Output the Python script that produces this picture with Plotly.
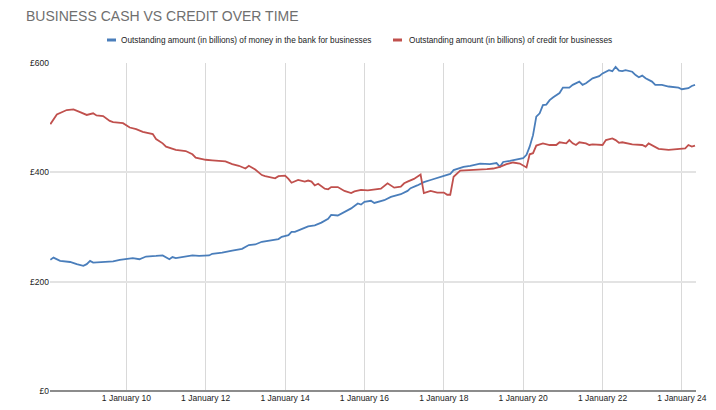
import plotly.graph_objects as go

title_text = "BUSINESS CASH VS CREDIT OVER TIME"
cash_name = "Outstanding amount (in billions) of money in the bank for businesses"
credit_name = "Outstanding amount (in billions) of credit for businesses"

cash_dates = ["2008-02", "2008-03", "2008-05", "2008-08", "2008-10", "2008-12", "2009-01", "2009-02", "2009-03",
              "2009-06", "2009-09", "2009-11", "2010-01", "2010-03", "2010-05", "2010-07", "2010-10", "2010-12",
              "2011-02", "2011-03", "2011-04", "2011-06", "2011-08", "2011-09", "2011-11", "2012-02", "2012-03",
              "2012-06", "2012-09", "2012-12", "2013-02", "2013-04", "2013-06", "2013-09", "2013-11", "2013-12",
              "2014-02", "2014-03", "2014-04", "2014-06", "2014-08", "2014-10", "2014-12", "2015-02", "2015-03",
              "2015-05", "2015-06", "2015-08", "2015-09", "2015-11", "2015-12", "2016-01", "2016-03", "2016-04",
              "2016-07", "2016-09", "2016-11", "2016-12", "2017-02", "2017-03", "2017-05", "2017-07", "2017-09",
              "2017-11", "2018-01", "2018-03", "2018-04", "2018-07", "2018-09", "2018-12", "2019-03", "2019-05",
              "2019-06", "2019-07", "2019-09", "2019-12", "2020-01", "2020-02", "2020-03", "2020-04", "2020-05",
              "2020-06", "2020-07", "2020-08", "2020-09", "2020-10", "2020-11", "2020-12", "2021-01", "2021-03",
              "2021-04", "2021-06", "2021-07", "2021-08", "2021-10", "2021-12", "2022-01", "2022-03", "2022-04",
              "2022-05", "2022-06", "2022-07", "2022-08", "2022-10", "2022-11", "2022-12", "2023-01", "2023-02",
              "2023-04", "2023-05", "2023-07", "2023-09", "2023-12", "2024-01", "2024-03", "2024-04", "2024-05"]
cash_values = [240, 244, 238, 236, 232, 229, 232, 238, 235,
               236, 237, 240, 241, 243, 241, 246, 247, 248,
               241, 245, 243, 245, 246, 248, 247, 248, 251,
               253, 257, 260, 267, 268, 273, 276, 278, 282,
               285, 291, 291, 296, 301, 303, 308, 315, 322,
               321, 324, 330, 334, 343, 341, 346, 348, 344,
               349, 355, 358, 360, 366, 371, 376, 382, 386,
               390, 393, 397, 404, 410, 412, 416, 415, 417,
               410, 419, 421, 424, 426, 432, 447, 468, 502,
               508, 523, 524, 532, 537, 541, 545, 555, 555,
               560, 566, 560, 563, 572, 576, 581, 587, 585,
               593, 586, 585, 587, 584, 578, 574, 577, 572,
               566, 560, 560, 557, 555, 552, 554, 558, 560]

credit_dates = ["2008-02", "2008-03", "2008-04", "2008-07", "2008-09", "2008-11", "2009-01", "2009-03", "2009-04",
                "2009-06", "2009-08", "2009-09", "2009-12", "2010-02", "2010-04", "2010-06", "2010-09", "2010-10",
                "2010-12", "2011-01", "2011-02", "2011-04", "2011-07", "2011-09", "2011-10", "2012-01", "2012-03",
                "2012-05", "2012-07", "2012-09", "2012-11", "2013-01", "2013-02", "2013-04", "2013-06", "2013-07",
                "2013-10", "2013-11", "2014-01", "2014-02", "2014-03", "2014-05", "2014-07", "2014-08", "2014-09",
                "2014-10", "2014-11", "2015-01", "2015-02", "2015-03", "2015-05", "2015-07", "2015-09", "2015-10",
                "2015-12", "2016-02", "2016-04", "2016-06", "2016-08", "2016-10", "2016-12", "2017-01", "2017-02",
                "2017-03", "2017-04", "2017-06", "2017-07", "2017-09", "2017-11", "2018-01", "2018-02", "2018-03",
                "2018-04", "2018-06", "2018-09", "2018-12", "2019-02", "2019-04", "2019-06", "2019-08", "2019-10",
                "2019-12", "2020-01", "2020-02", "2020-03", "2020-04", "2020-05", "2020-06", "2020-07", "2020-09",
                "2020-11", "2020-12", "2021-02", "2021-03", "2021-04", "2021-05", "2021-06", "2021-08", "2021-09",
                "2021-10", "2021-12", "2022-01", "2022-02", "2022-04", "2022-05", "2022-06", "2022-07", "2022-09",
                "2022-10", "2023-01", "2023-02", "2023-03", "2023-04", "2023-06", "2023-09", "2023-12", "2024-02",
                "2024-03", "2024-04", "2024-05"]
credit_values = [488, 497, 506, 514, 515, 510, 505, 508, 504,
                 503, 494, 492, 490, 482, 479, 474, 470, 461,
                 453, 447, 445, 441, 439, 433, 427, 423, 422,
                 421, 420, 415, 412, 407, 412, 405, 395, 393,
                 389, 393, 394, 388, 381, 386, 383, 385, 383,
                 376, 379, 370, 369, 373, 373, 366, 362, 365,
                 368, 367, 368, 370, 380, 372, 374, 380, 383,
                 385, 388, 396, 362, 366, 363, 363, 359, 359,
                 392, 403, 404, 404, 406, 407, 410, 415, 418,
                 416, 412, 409, 433, 435, 449, 451, 453, 450,
                 450, 455, 453, 459, 453, 450, 455, 453, 450,
                 451, 451, 450, 459, 462, 459, 454, 455, 453,
                 451, 450, 447, 453, 450, 443, 441, 442, 444,
                 450, 447, 449]

y_ticks = [0, 200, 400, 600]
y_tick_labels = ["£0", "£200", "£400", "£600"]
x_ticks = ["2010-01-01", "2012-01-01", "2014-01-01", "2016-01-01",
           "2018-01-01", "2020-01-01", "2022-01-01", "2024-01-01"]
x_tick_labels = ["1 January 10", "1 January 12", "1 January 14", "1 January 16",
                 "1 January 18", "1 January 20", "1 January 22", "1 January 24"]

BLUE = "#4a7ebb"
RED = "#c0504d"
FONT = "Liberation Sans, Arial, sans-serif"

# plot-area geometry in pixels (for legend placement)
PL, PR, PT, PB = 50, 696, 63, 391
W = PR - PL
H = PB - PT


def px(x):
    return (x - PL) / W


def py(y):
    return (PB - y) / H


fig = go.Figure()
fig.add_trace(go.Scatter(x=cash_dates, y=cash_values, mode="lines", name=cash_name,
                         line=dict(color=BLUE, width=1.8)))
fig.add_trace(go.Scatter(x=credit_dates, y=credit_values, mode="lines", name=credit_name,
                         line=dict(color=RED, width=1.8)))

# custom legend (short swatches like the reference)
legend_items = [(cash_name, BLUE, 107, 121), (credit_name, RED, 393, 409)]
shapes = []
annotations = []
for name, col, sx, tx in legend_items:
    shapes.append(dict(type="rect", xref="paper", yref="paper",
                       x0=px(sx), x1=px(sx + 9), y0=py(41.5), y1=py(38.5),
                       fillcolor=col, line=dict(width=0)))
    annotations.append(dict(text=name, xref="paper", yref="paper", x=px(tx - 2), y=py(40),
                            xanchor="left", yanchor="middle", showarrow=False,
                            font=dict(family=FONT, size=8.25, color="#222222")))

fig.update_layout(
    width=716, height=410,
    margin=dict(l=PL, r=716 - PR, t=PT, b=410 - PB, autoexpand=False),
    paper_bgcolor="white", plot_bgcolor="white",
    font=dict(family=FONT, size=9, color="#222222"),
    title=dict(text=title_text, x=26 / 716, xanchor="left", xref="container",
               y=1 - 16 / 410, yanchor="middle", pad=dict(l=0, r=0, t=0, b=0),
               font=dict(family=FONT, size=14, color="#6f6f6f")),
    showlegend=False,
    shapes=shapes,
    annotations=annotations,
    xaxis=dict(type="date", range=["2008-01-29", "2024-05-10"],
               tickvals=x_ticks, ticktext=x_tick_labels,
               showgrid=True, gridcolor="#d9d9d9", gridwidth=1,
               showline=False, zeroline=False, ticks="", tickfont=dict(size=8.5, color="#222222")),
    yaxis=dict(range=[0, 600], tickvals=y_ticks, ticktext=y_tick_labels,
               showgrid=True, gridcolor="#e3e3e3", gridwidth=1.5,
               zeroline=True, zerolinecolor="#8c8c8c", zerolinewidth=1.5,
               showline=False, ticks="", tickfont=dict(size=8.5, color="#222222")),
)

fig.write_html("out.html", config={"displayModeBar": False},
               post_script="document.body.style.margin='0';document.body.style.overflow='hidden';")
